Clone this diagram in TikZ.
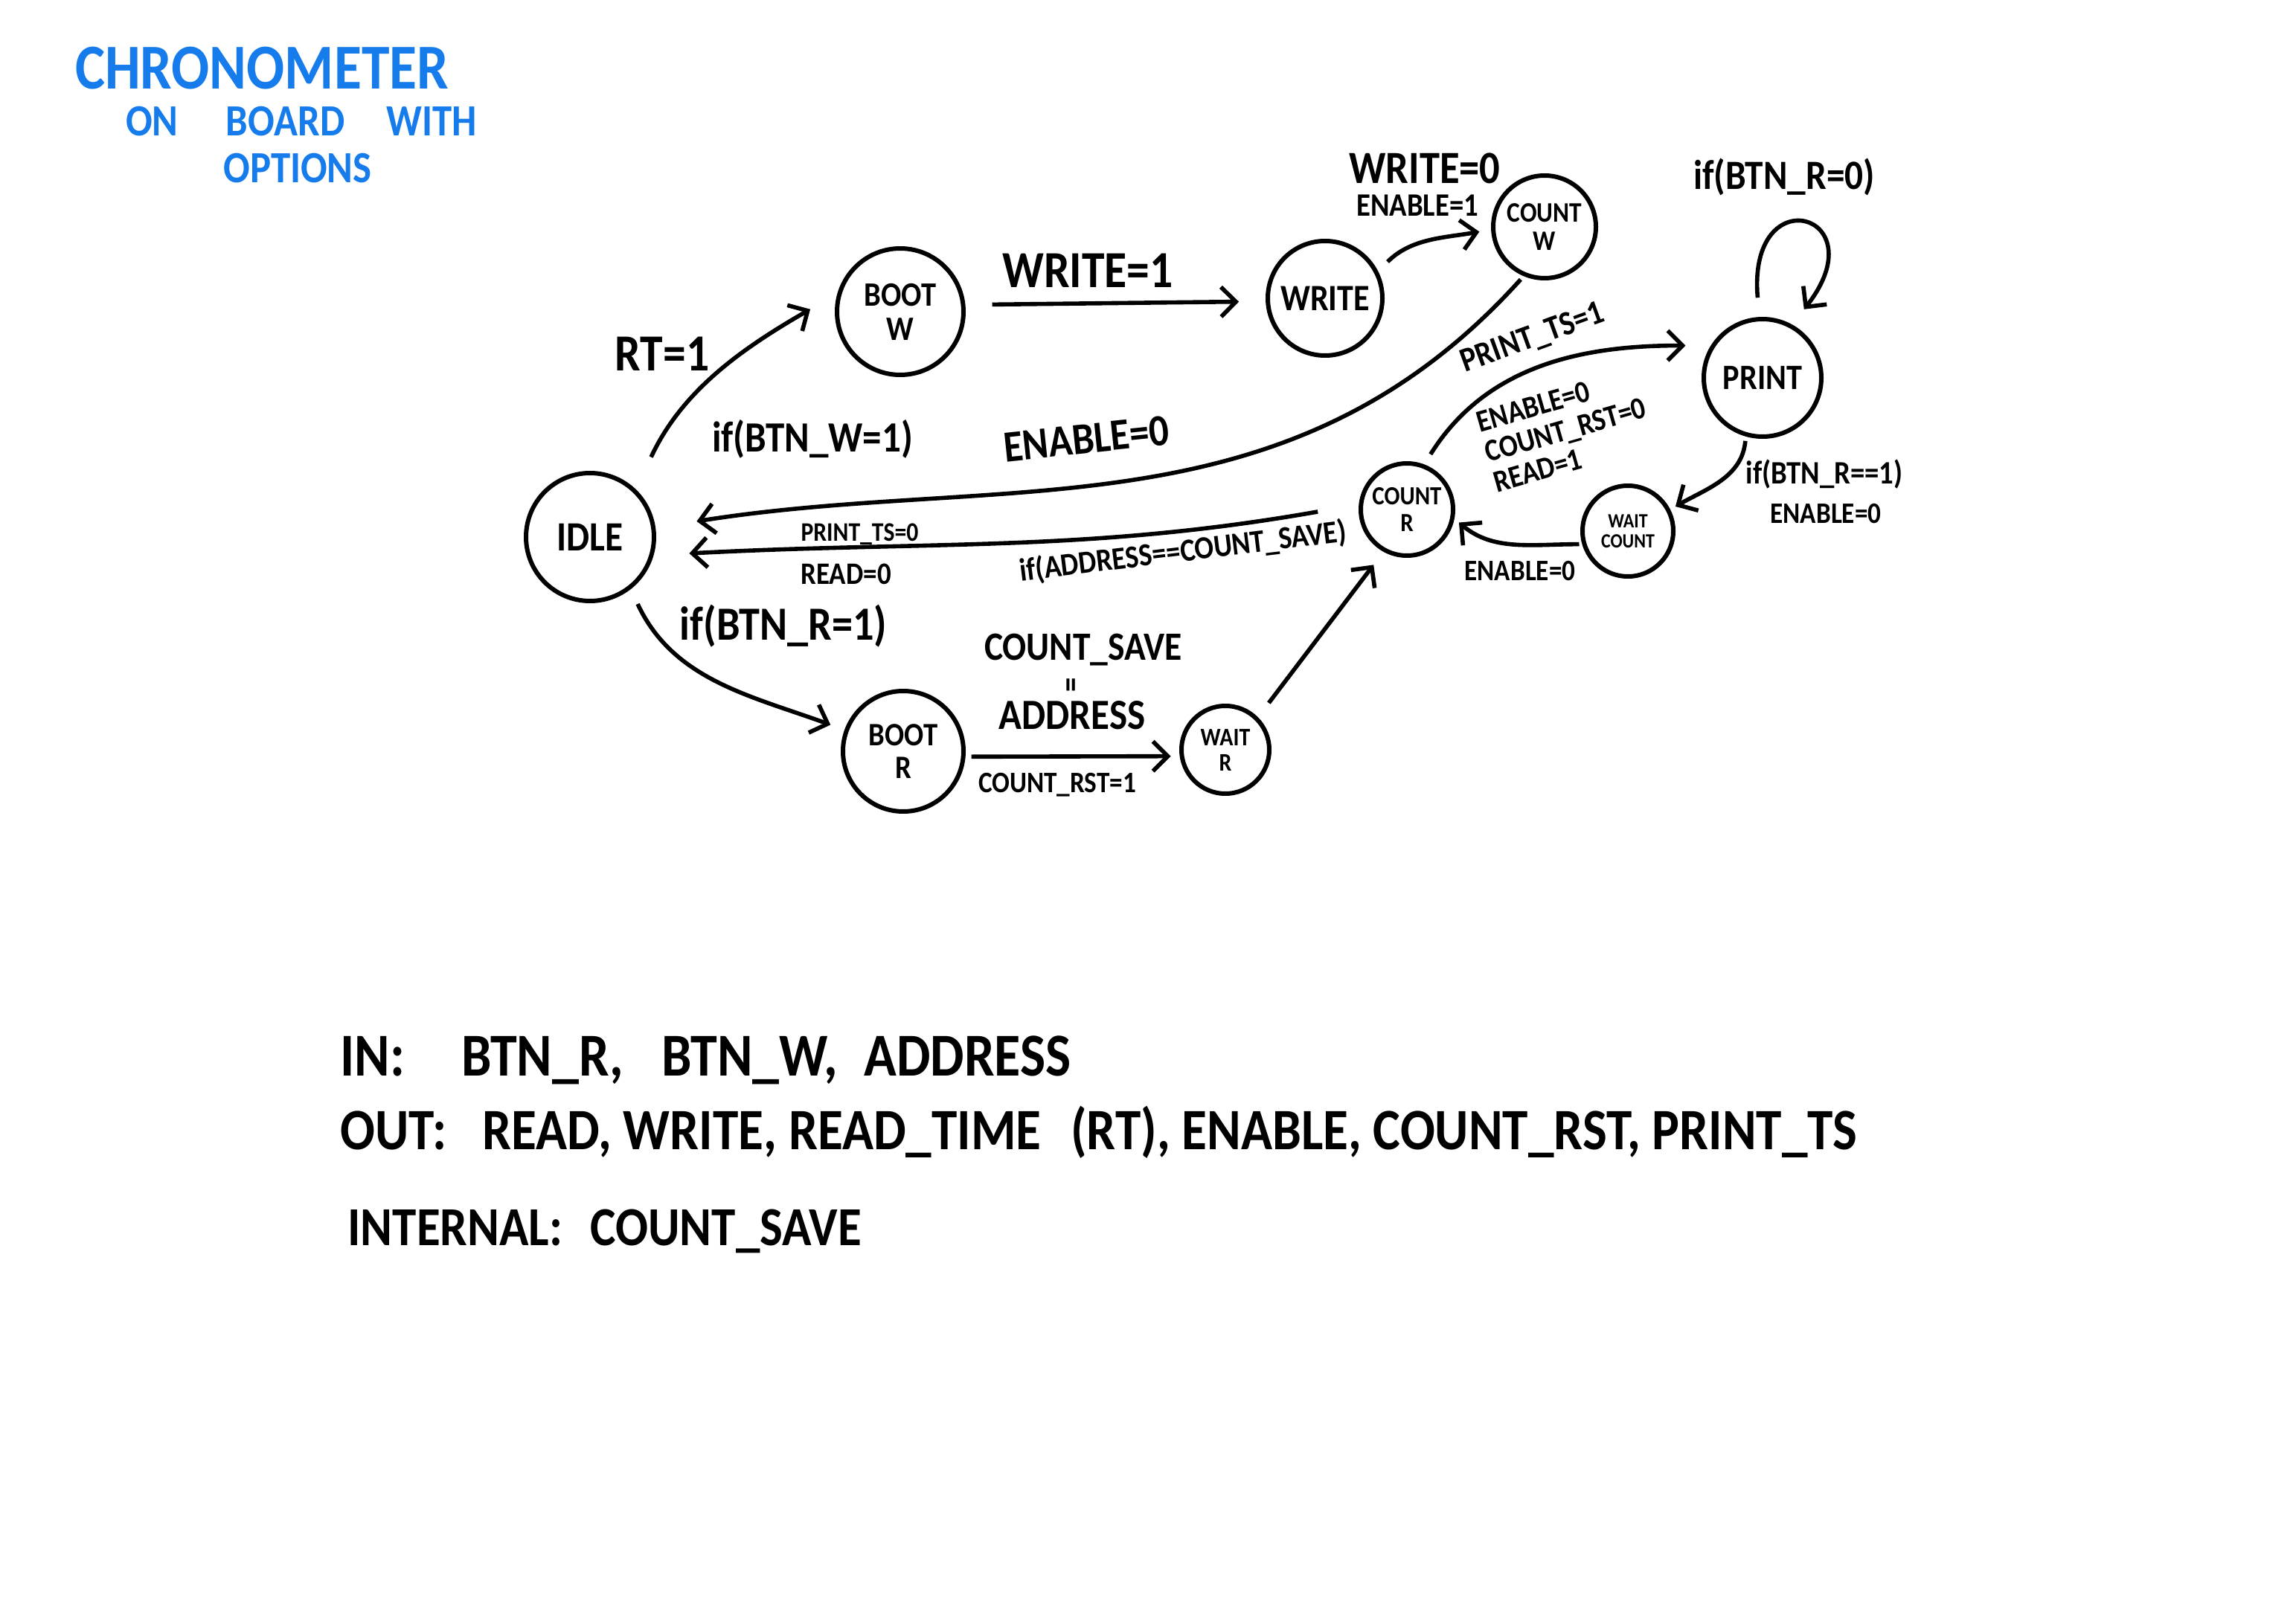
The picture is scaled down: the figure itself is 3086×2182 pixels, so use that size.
\documentclass[tikz,border=0pt]{standalone}
\usepackage{fontspec}
\setmainfont{Carlito}[FakeStretch=0.88]
\usetikzlibrary{arrows.meta}
\definecolor{titleblue}{RGB}{22,124,236}
\tikzset{every picture/.style={line width=0.75pt}}
\tikzset{
  state/.style={circle, draw, line width=1.5pt, inner sep=0pt, align=center},
  flow/.style={line width=1.4pt, -{Straight Barb[length=5pt,width=10pt]}},
  lbl/.style={inner sep=0.75pt, align=center},
}
\newcommand{\fs}[1]{\fontsize{#1}{#1}\selectfont\bfseries}

\begin{document}
\begin{tikzpicture}[x=0.25pt,y=0.25pt,yscale=-1,xscale=1]
		\useasboundingbox (0,0) rectangle (3086,2182);
		
		%title
		\node [lbl, text=titleblue, font=\fs{21.5}] (ttl) at (352,92) {CHRONOMETER};
		\node [lbl, text=titleblue, font=\fs{15}] (sub1) at (405,163) {ON\hspace{16pt}BOARD\hspace{14pt}WITH};
		\node [lbl, text=titleblue, font=\fs{15}] (sub2) at (400,226) {OPTIONS};
		
		%Shape: Circle states
		\node [state, minimum size=43pt, font=\fs{14}] (idle) at (793,722) {IDLE};
		\node [state, minimum size=42.5pt, font=\fs{11.5}] (bootw) at (1210,419) {BOOT\\W};
		\node [state, minimum size=38.5pt, font=\fs{12.5}] (write) at (1781,401) {WRITE};
		\node [state, minimum size=34.5pt, font=\fs{9.5}] (countw) at (2076,305) {COUNT\\W};
		\node [state, minimum size=39.5pt, font=\fs{12}] (print) at (2369,508) {PRINT};
		\node [state, minimum size=30.5pt, font=\fs{6.8}] (waitcount) at (2188,714) {WAIT\\COUNT};
		\node [state, minimum size=31pt, font=\fs{8.8}] (countr) at (1891,685) {COUNT\\R};
		\node [state, minimum size=40.5pt, font=\fs{11}] (bootr) at (1214,1010) {BOOT\\R};
		\node [state, minimum size=29.5pt, font=\fs{8.5}] (waitr) at (1647,1008) {WAIT\\R};
		
		%connectors
		\draw [flow, shorten <=12pt, shorten >=10.5pt] (idle.46) to[out=-65, in=150] (bootw.164);
		\draw [flow, shorten <=9pt, shorten >=9pt] (bootw.6) -- (write.183);
		\draw [flow, shorten <=4.5pt, shorten >=4pt] (write.27) to[out=-45, in=170] (countw.183);
		\draw [flow, shorten <=1.5pt, shorten >=14pt] (countw.247) to[out=132, in=-9] (idle.8);
		\draw [flow, shorten <=14pt, shorten >=12pt] (countr.174) to[out=170, in=-3] (idle.344);
		\draw [flow, shorten <=5.5pt, shorten >=5pt] (idle.308) to[out=65, in=-160] (bootr.160);
		\draw [flow, shorten <=2pt, shorten >=3pt] (bootr.-5) -- (waitr.188);
		\draw [flow, shorten <=6pt, shorten >=5.5pt] (waitr.45) -- (countr.241);
		\draw [flow, shorten <=4pt, shorten >=8.5pt] (countr.69) to[out=-58, in=180] (print.148);
		\draw [flow, shorten <=6.5pt, shorten >=6.5pt] (print.93) .. controls +(-95:190) and +(-52:190) .. (print.61);
		\draw [flow, shorten <=1.5pt, shorten >=2pt] (print.254) to[out=95, in=-30] (waitcount.27);
		\draw [flow, shorten <=1pt, shorten >=2pt] (waitcount.196) to[out=-180, in=40] (countr.349);
		
		%labels
		\node [lbl, font=\fs{17.5}] (lrt) at (890,476) {RT=1};
		\node [lbl, font=\fs{14.5}] (lbtnw) at (1092,590) {if(BTN\_W=1)};
		\node [lbl, font=\fs{17.5}] (lwrite) at (1462,364) {WRITE=1};
		\node [lbl, font=\fs{15.5}] (lwrite0) at (1915,226) {WRITE=0};
		\node [lbl, font=\fs{11}] (lenable1) at (1905,276) {ENABLE=1};
		\node [lbl, font=\fs{15}, rotate=6] (lenable0) at (1460,590) {ENABLE=0};
		\node [lbl, anchor=west, font=\fs{9}] (lprint0) at (1072,718) {PRINT\_TS=0};
		\node [lbl, anchor=west, font=\fs{10.5}] (lread0) at (1072,772) {READ=0};
		\node [lbl, font=\fs{10.8}, rotate=7] (laddr) at (1590,742) {if(ADDRESS==COUNT\_SAVE)};
		\node [lbl, font=\fs{16}] (lbtnr) at (1053,842) {if(BTN\_R=1)};
		\node [lbl, font=\fs{13.5}] (lsave) at (1456,874) {COUNT\_SAVE};
		\node [lbl, font=\fs{11}, rotate=90] (leq) at (1444,921) {=};
		\node [lbl, font=\fs{14.5}] (laddress) at (1441,962) {ADDRESS};
		\node [lbl, font=\fs{10}] (lrst1) at (1421,1055) {COUNT\_RST=1};
		\node [lbl, font=\fs{11.5}, rotate=20] (lprint1) at (2060,455) {PRINT\_TS=1};
		\node [lbl, align=left, font=\fontsize{10.5}{10.5}\selectfont\bfseries, rotate=16] (lreadout) at (2104,578) {ENABLE=0\\COUNT\_RST=0\\READ=1};
		\node [lbl, font=\fs{14}] (lbtnr0) at (2398,238) {if(BTN\_R=0)};
		\node [lbl, font=\fs{11}] (lbtnr1) at (2452,638) {if(BTN\_R==1)};
		\node [lbl, font=\fs{10}] (lenable0c) at (2454,691) {ENABLE=0};
		\node [lbl, font=\fs{10}] (lenable0d) at (2043,768) {ENABLE=0};
		
		%signals
		\node [lbl, anchor=west, font=\fs{20.5}] (lin) at (453,1425) {IN:\hspace{19pt}BTN\_R,\hspace{13pt}BTN\_W,\hspace{9pt}ADDRESS};
		\node [lbl, anchor=west, font=\fs{19.7}] (lout) at (453,1522) {OUT:\hspace{12pt}READ, WRITE, READ\_TIME\enspace (RT), ENABLE, COUNT\_RST, PRINT\_TS};
		\node [lbl, anchor=west, font=\fs{18.5}] (lint) at (463,1655) {INTERNAL:\enspace COUNT\_SAVE};
		
	\end{tikzpicture}
\end{document}
